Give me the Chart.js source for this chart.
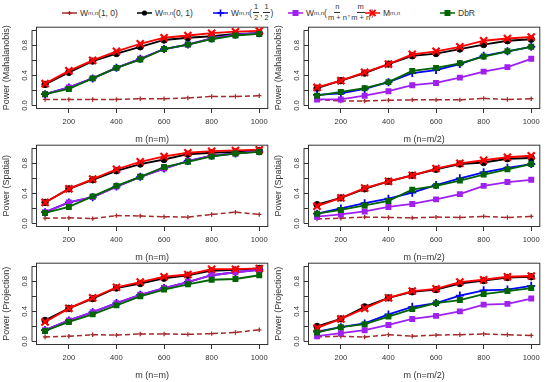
<!DOCTYPE html>
<html>
<head>
<meta charset="utf-8">
<script src="https://cdn.jsdelivr.net/npm/chart.js@4.4.1/dist/chart.umd.min.js"></script>
<style>
body{margin:0;width:550px;height:382px;background:#fff;position:relative;overflow:hidden;font-family:"Liberation Sans",Arial,sans-serif;color:#333}
canvas{position:absolute}
.leg{position:absolute;top:0;height:25px;display:flex;align-items:center;font-size:8.5px;white-space:nowrap}
.leg svg{margin-right:3px}
.frac{display:inline-flex;flex-direction:column;align-items:center;vertical-align:middle;font-size:7.5px;line-height:9.5px;margin:0 1px}
.frac span:first-child{border-bottom:0.8px solid #333;padding:0 1px 0.5px}
sub{font-size:6px;vertical-align:-2px}
</style>
</head>
<body>
<div class="leg" style="left:62px"><svg width="15" height="8"><path d="M0 4H15" stroke="#a52a2a" stroke-width="1.5"/><path d="M7.5 2V6M5.5 4H9.5" stroke="#a52a2a" stroke-width="1.3"/></svg>W<sub>m,n</sub>(1, 0)</div>
<div class="leg" style="left:137px"><svg width="15" height="8"><path d="M0 4H15" stroke="#000" stroke-width="1.5"/><circle cx="7.5" cy="4" r="2.6" fill="#000"/></svg>W<sub>m,n</sub>(0, 1)</div>
<div class="leg" style="left:213px"><svg width="15" height="8"><path d="M0 4H15" stroke="#00f" stroke-width="1.5"/><path d="M7.5 0.5V7.5M4 4H11" stroke="#00f" stroke-width="1.6"/></svg>W<sub>m,n</sub>(<span class="frac"><span>1</span><span>2</span></span>,<span class="frac"><span>1</span><span>2</span></span>)</div>
<div class="leg" style="left:288px"><svg width="15" height="8"><path d="M0 4H15" stroke="#a020f0" stroke-width="1.5"/><rect x="4.5" y="1" width="6" height="6" fill="#a020f0"/></svg>W<sub>m,n</sub>(<span class="frac"><span>n</span><span>m + n</span></span>,<span class="frac"><span>m</span><span>m + n</span></span>)</div>
<div class="leg" style="left:365px"><svg width="15" height="8"><path d="M0 4H15" stroke="#f00" stroke-width="1.5"/><path d="M4.5 1L10.5 7M10.5 1L4.5 7" stroke="#f00" stroke-width="1.8"/></svg>M<sub>m,n</sub></div>
<div class="leg" style="left:440px"><svg width="15" height="8"><path d="M0 4H15" stroke="#006400" stroke-width="1.5"/><rect x="4.5" y="1" width="6" height="6" fill="#006400"/></svg>DbR</div>
<script>
const m = [100, 200, 300, 400, 500, 600, 700, 800, 900, 1000];
const xTicks = [200, 400, 600, 800, 1000];
const yTicks = [0, 0.2, 0.4, 0.6, 0.8, 1.0];
const yLabels = ['0.0', '', '0.4', '', '0.8', ''];

// Mahalanobis, n = m
const mahaEqW10   = [0.08, 0.08, 0.08, 0.08, 0.09, 0.09, 0.10, 0.12, 0.12, 0.13];
const mahaEqW01   = [0.28, 0.44, 0.59, 0.69, 0.78, 0.87, 0.90, 0.92, 0.95, 0.96];
const mahaEqWhalf = [0.15, 0.24, 0.36, 0.50, 0.62, 0.75, 0.81, 0.89, 0.94, 0.96];
const mahaEqM     = [0.29, 0.46, 0.60, 0.72, 0.82, 0.90, 0.93, 0.96, 0.98, 0.99];
const mahaEqDbR   = [0.15, 0.22, 0.36, 0.50, 0.61, 0.75, 0.81, 0.88, 0.93, 0.95];
// Mahalanobis, n = m/2
const mahaHalfW10   = [0.08, 0.06, 0.06, 0.07, 0.075, 0.075, 0.075, 0.095, 0.08, 0.09];
const mahaHalfW01   = [0.23, 0.33, 0.43, 0.55, 0.66, 0.69, 0.75, 0.81, 0.86, 0.88];
const mahaHalfWhalf = [0.14, 0.16, 0.22, 0.31, 0.43, 0.47, 0.55, 0.66, 0.72, 0.78];
const mahaHalfWprop = [0.08, 0.08, 0.13, 0.19, 0.27, 0.30, 0.37, 0.45, 0.51, 0.62];
const mahaHalfM     = [0.24, 0.33, 0.44, 0.55, 0.68, 0.72, 0.78, 0.86, 0.89, 0.91];
const mahaHalfDbR   = [0.13, 0.18, 0.23, 0.31, 0.46, 0.50, 0.56, 0.65, 0.72, 0.78];
// Spatial, n = m
const spatEqW10   = [0.07, 0.075, 0.065, 0.105, 0.10, 0.09, 0.085, 0.12, 0.15, 0.12];
const spatEqW01   = [0.28, 0.46, 0.58, 0.70, 0.79, 0.85, 0.92, 0.94, 0.95, 0.97];
const spatEqWhalf = [0.15, 0.28, 0.35, 0.49, 0.62, 0.73, 0.83, 0.90, 0.93, 0.96];
const spatEqM     = [0.28, 0.46, 0.59, 0.72, 0.82, 0.89, 0.94, 0.96, 0.97, 0.98];
const spatEqDbR   = [0.14, 0.22, 0.36, 0.50, 0.62, 0.75, 0.82, 0.89, 0.93, 0.95];
// Spatial, n = m/2
const spatHalfW10   = [0.06, 0.07, 0.085, 0.08, 0.075, 0.085, 0.08, 0.095, 0.08, 0.095];
const spatHalfW01   = [0.25, 0.34, 0.46, 0.56, 0.64, 0.72, 0.79, 0.81, 0.86, 0.87];
const spatHalfWhalf = [0.13, 0.20, 0.27, 0.33, 0.41, 0.51, 0.60, 0.68, 0.74, 0.79];
const spatHalfWprop = [0.09, 0.12, 0.16, 0.22, 0.26, 0.32, 0.39, 0.50, 0.55, 0.58];
const spatHalfM     = [0.23, 0.34, 0.47, 0.56, 0.64, 0.73, 0.80, 0.84, 0.88, 0.90];
const spatHalfDbR   = [0.13, 0.18, 0.24, 0.30, 0.45, 0.50, 0.57, 0.65, 0.72, 0.79];
// Projection, n = m
const projEqW10   = [0.06, 0.07, 0.09, 0.085, 0.10, 0.10, 0.095, 0.105, 0.12, 0.155];
const projEqW01   = [0.28, 0.44, 0.57, 0.71, 0.77, 0.84, 0.88, 0.94, 0.95, 0.97];
const projEqWhalf = [0.15, 0.28, 0.39, 0.51, 0.62, 0.71, 0.79, 0.88, 0.92, 0.95];
const projEqM     = [0.26, 0.44, 0.58, 0.72, 0.79, 0.86, 0.89, 0.96, 0.96, 0.97];
const projEqDbR   = [0.14, 0.26, 0.36, 0.48, 0.60, 0.69, 0.76, 0.82, 0.83, 0.88];
// Projection, n = m/2
const projHalfW10   = [0.06, 0.07, 0.06, 0.09, 0.07, 0.085, 0.09, 0.10, 0.09, 0.08];
const projHalfW01   = [0.20, 0.30, 0.46, 0.58, 0.66, 0.69, 0.77, 0.81, 0.85, 0.86];
const projHalfWhalf = [0.13, 0.19, 0.24, 0.36, 0.46, 0.51, 0.61, 0.68, 0.69, 0.74];
const projHalfWprop = [0.07, 0.11, 0.15, 0.22, 0.30, 0.34, 0.40, 0.49, 0.50, 0.57];
const projHalfM     = [0.18, 0.30, 0.44, 0.58, 0.67, 0.70, 0.79, 0.82, 0.86, 0.87];
const projHalfDbR   = [0.12, 0.19, 0.23, 0.33, 0.43, 0.51, 0.55, 0.63, 0.67, 0.71];

// series look (order: lower = drawn on top)
const look = {
  w10:   {color:'#a52a2a', style:'cross',    r:2.2, pw:1.3, lw:1.5, dash:[5,3], order:6},
  w01:   {color:'#000000', style:'circle',   r:3.2, pw:1,   lw:1.8, dash:[],    order:5},
  whalf: {color:'#0000ff', style:'cross',    r:4,   pw:1.8, lw:1.8, dash:[],    order:4},
  wprop: {color:'#a020f0', style:'rect',     r:4.2, pw:0,   lw:1.8, dash:[],    order:3},
  m:     {color:'#ff0000', style:'crossRot', r:5,   pw:2.2, lw:1.8, dash:[],    order:2},
  dbr:   {color:'#006400', style:'rect',     r:4.2, pw:0,   lw:1.8, dash:[],    order:1}
};

const panels = [
  {col:0, row:0, yTitle:'Power (Mahalanobis)', xTitle:'m (n=m)',
   s:{w10:mahaEqW10, w01:mahaEqW01, whalf:mahaEqWhalf, wprop:mahaEqWhalf, m:mahaEqM, dbr:mahaEqDbR}},
  {col:1, row:0, yTitle:'Power (Mahalanobis)', xTitle:'m (n=m/2)',
   s:{w10:mahaHalfW10, w01:mahaHalfW01, whalf:mahaHalfWhalf, wprop:mahaHalfWprop, m:mahaHalfM, dbr:mahaHalfDbR}},
  {col:0, row:1, yTitle:'Power (Spatial)', xTitle:'m (n=m)',
   s:{w10:spatEqW10, w01:spatEqW01, whalf:spatEqWhalf, wprop:spatEqWhalf, m:spatEqM, dbr:spatEqDbR}},
  {col:1, row:1, yTitle:'Power (Spatial)', xTitle:'m (n=m/2)',
   s:{w10:spatHalfW10, w01:spatHalfW01, whalf:spatHalfWhalf, wprop:spatHalfWprop, m:spatHalfM, dbr:spatHalfDbR}},
  {col:0, row:2, yTitle:'Power (Projection)', xTitle:'m (n=m)',
   s:{w10:projEqW10, w01:projEqW01, whalf:projEqWhalf, wprop:projEqWhalf, m:projEqM, dbr:projEqDbR}},
  {col:1, row:2, yTitle:'Power (Projection)', xTitle:'m (n=m/2)',
   s:{w10:projHalfW10, w01:projHalfW01, whalf:projHalfWhalf, wprop:projHalfWprop, m:projHalfM, dbr:projHalfDbR}}
];

const TICK = 4.5, YW = 36.5, XH = 37.5, PT = 6.5;
const colLeft = [0, 272], rowTop = [20, 138, 256];
const CW = 275, CH = 126;

Chart.defaults.font.family = "'Liberation Sans', Arial, sans-serif";
Chart.defaults.color = '#333';

// plot frame + R-style y axis line sitting at the tick ends
const frame = {
  id:'frame',
  beforeDatasetsDraw(chart){
    const {ctx, chartArea:a, scales:{y}} = chart;
    ctx.save();
    ctx.strokeStyle = '#333'; ctx.lineWidth = 1;
    ctx.strokeRect(a.left, a.top, a.right - a.left, a.bottom - a.top);
    const x0 = a.left - TICK;
    ctx.beginPath();
    ctx.moveTo(x0, y.getPixelForValue(yTicks[0]));
    ctx.lineTo(x0, y.getPixelForValue(yTicks[yTicks.length - 1]));
    ctx.stroke();
    ctx.restore();
  }
};

panels.forEach(p => {
  const cv = document.createElement('canvas');
  cv.width = CW; cv.height = CH;
  cv.style.left = colLeft[p.col] + 'px';
  cv.style.top = rowTop[p.row] + 'px';
  document.body.appendChild(cv);
  const datasets = Object.keys(look).map(k => {
    const st = look[k];
    return {
      data: m.map((x, i) => ({x, y: p.s[k][i]})),
      borderColor: st.color, backgroundColor: st.color,
      pointBorderColor: st.color, pointBackgroundColor: st.color,
      borderWidth: st.lw, borderDash: st.dash,
      pointStyle: st.style, pointRadius: st.r, pointBorderWidth: st.pw,
      tension: 0, order: st.order
    };
  });
  new Chart(cv, {
    type:'line',
    data:{datasets},
    options:{
      responsive:false, animation:false, devicePixelRatio:1,
      plugins:{legend:{display:false}, tooltip:{enabled:false}},
      layout:{padding:{left:0, top:PT, right:CW - YW - 235, bottom:0}},
      scales:{
        x:{type:'linear', min:64, max:1036,
          afterFit:s => { s.height = XH; },
          afterBuildTicks:s => { s.ticks = xTicks.map(v => ({value:v})); },
          ticks:{font:{size:7.6}, padding:4.4, maxRotation:0, callback:v => String(v)},
          grid:{drawOnChartArea:false, tickLength:TICK, color:'#333'},
          border:{display:false},
          title:{display:true, text:p.xTitle, font:{size:9}, padding:{top:0, bottom:1.1}}},
        y:{min:-0.04, max:1.04,
          afterFit:s => { s.width = YW; },
          afterBuildTicks:s => { s.ticks = yTicks.map(v => ({value:v})); },
          ticks:{font:{size:7.6}, minRotation:90, maxRotation:90, crossAlign:'center', padding:1.7,
            callback:(v, i) => yLabels[i]},
          grid:{drawOnChartArea:false, tickLength:TICK, color:'#333'},
          border:{display:false},
          title:{display:true, text:p.yTitle, font:{size:9}, padding:{top:1.6, bottom:0}}}
      }
    },
    plugins:[frame]
  });
});
</script>
</body>
</html>
